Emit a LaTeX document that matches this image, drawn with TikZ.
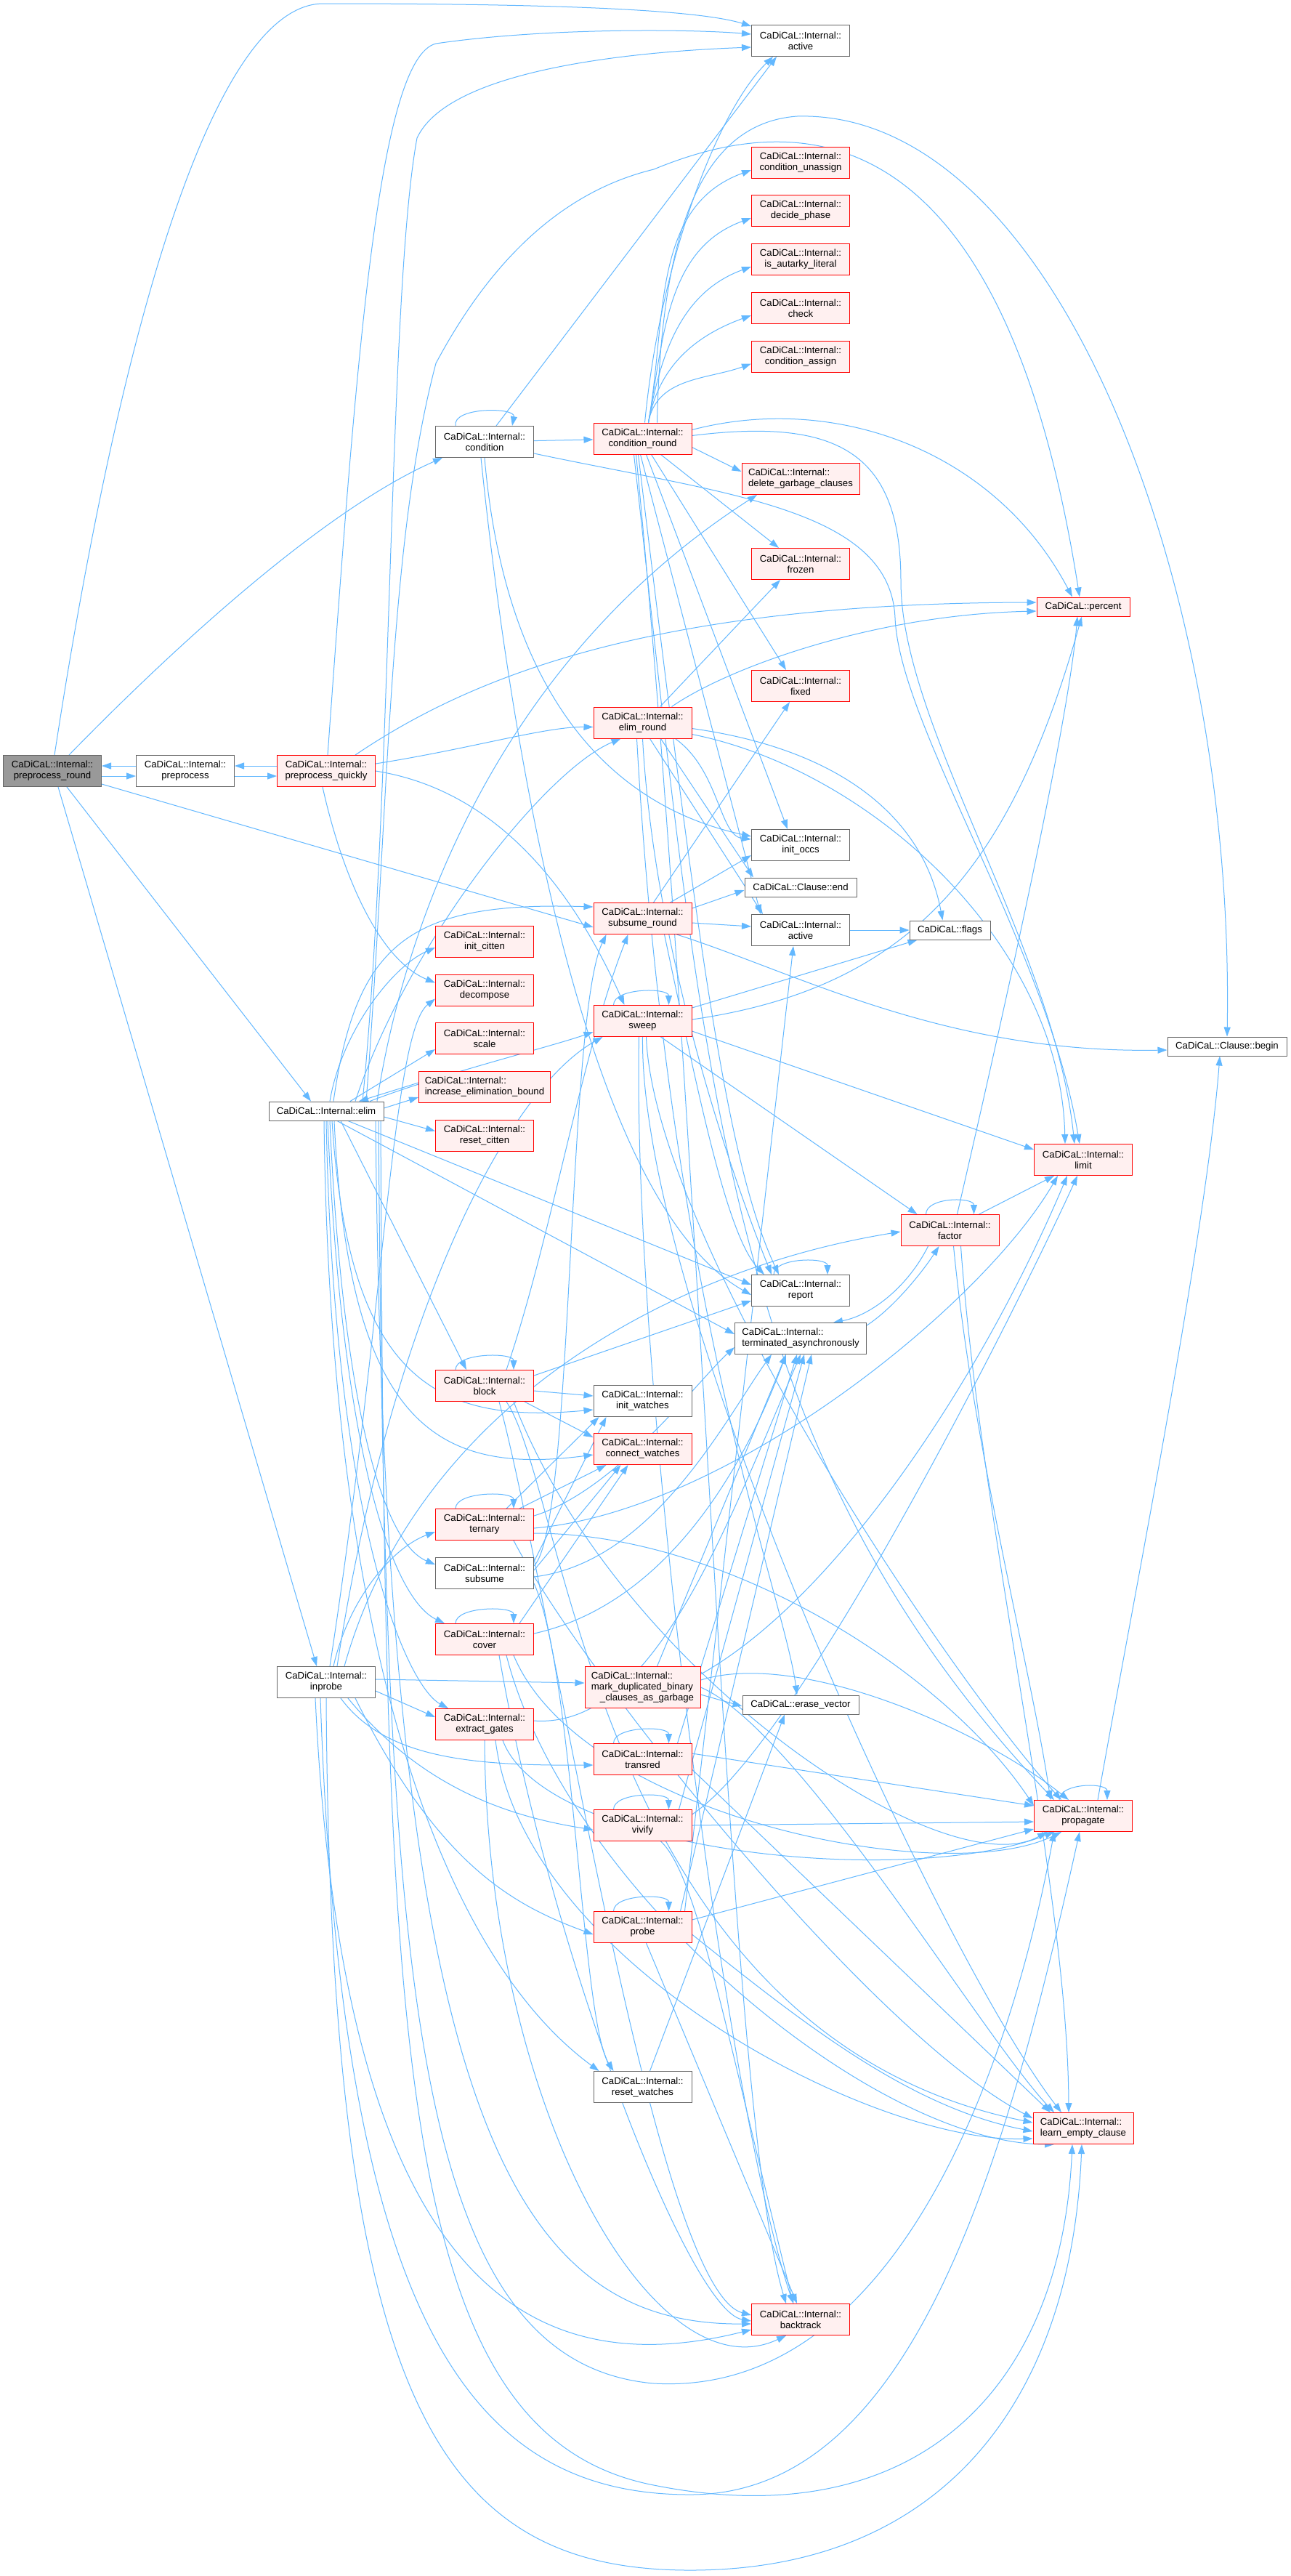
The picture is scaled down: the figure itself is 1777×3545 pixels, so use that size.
\documentclass[tikz,border=0pt]{standalone}
\usepackage{fontspec}
\setmainfont{Liberation Sans}
\usetikzlibrary{arrows.meta,backgrounds}
\definecolor{cgEdge}{HTML}{63B8FF}
\definecolor{cgGrey}{HTML}{666666}
\definecolor{cgRoot}{HTML}{999999}
\definecolor{cgPink}{HTML}{FFF0F0}
\definecolor{cgRed}{HTML}{FF0000}

\begin{document}
\begin{tikzpicture}[x=1pt, y=1pt,
    fn/.style={draw=cgGrey, fill=white, line width=1pt, inner sep=2pt,
      minimum width=135pt, minimum height=43pt, align=center,
      font=\fontsize{13.2}{15}\selectfont},
    trunc/.style={draw=cgRed, fill=cgPink},
    root/.style={fill=cgRoot},
    one/.style={minimum height=26pt},
    e/.style={-{Triangle[length=13pt,width=9pt]}, draw=cgEdge, line width=1pt}]
  \useasboundingbox (0,0) rectangle (1777,-3545);
  % column 1: entry
  \node[fn, root] (prr) at (72,-1061) {CaDiCaL::Internal::\\preprocess\_round};
  \node[fn] (pp) at (255,-1061) {CaDiCaL::Internal::\\preprocess};
  \node[fn, trunc] (pq) at (449,-1061) {CaDiCaL::Internal::\\preprocess\_quickly};
  \node[fn, one, minimum width=158pt] (elim) at (449,-1529) {CaDiCaL::Internal::elim};
  \node[fn] (inp) at (449,-2315) {CaDiCaL::Internal::\\inprobe};
  % column 2
  \node[fn] (cond) at (667,-608) {CaDiCaL::Internal::\\condition};
  \node[fn, trunc] (cit) at (667,-1296) {CaDiCaL::Internal::\\init\_citten};
  \node[fn, trunc] (dec) at (667,-1362.5) {CaDiCaL::Internal::\\decompose};
  \node[fn, trunc] (scl) at (667,-1429) {CaDiCaL::Internal::\\scale};
  \node[fn, trunc, minimum width=181pt, align=left] (ieb) at (667,-1496) {CaDiCaL::Internal::\\increase\_elimination\_bound};
  \node[fn, trunc] (rcit) at (667,-1562.5) {CaDiCaL::Internal::\\reset\_citten};
  \node[fn, trunc] (blk) at (667,-1907) {CaDiCaL::Internal::\\block};
  \node[fn, trunc] (tern) at (667,-2098) {CaDiCaL::Internal::\\ternary};
  \node[fn] (sub) at (667,-2165) {CaDiCaL::Internal::\\subsume};
  \node[fn, trunc] (cov) at (667,-2256) {CaDiCaL::Internal::\\cover};
  \node[fn, trunc] (eg) at (667,-2373) {CaDiCaL::Internal::\\extract\_gates};
  % column 3
  \node[fn, trunc] (cr) at (884.5,-603.5) {CaDiCaL::Internal::\\condition\_round};
  \node[fn, trunc] (er) at (884.5,-994.5) {CaDiCaL::Internal::\\elim\_round};
  \node[fn, trunc] (sr) at (884.5,-1264) {CaDiCaL::Internal::\\subsume\_round};
  \node[fn, trunc] (sw) at (884.5,-1405) {CaDiCaL::Internal::\\sweep};
  \node[fn] (iw) at (884.5,-1928) {CaDiCaL::Internal::\\init\_watches};
  \node[fn, trunc] (cw) at (884.5,-1994) {CaDiCaL::Internal::\\connect\_watches};
  \node[fn, trunc, minimum width=159pt, minimum height=57pt, align=left] (md) at (884.5,-2322)
    {CaDiCaL::Internal::\\mark\_duplicated\_binary\\\hspace*{12pt}\_clauses\_as\_garbage};
  \node[fn, trunc] (tr) at (884.5,-2421) {CaDiCaL::Internal::\\transred};
  \node[fn, trunc] (viv) at (884.5,-2512) {CaDiCaL::Internal::\\vivify};
  \node[fn, trunc] (prb) at (884.5,-2652) {CaDiCaL::Internal::\\probe};
  \node[fn] (rw) at (884.5,-2872) {CaDiCaL::Internal::\\reset\_watches};
  % column 4
  \node[fn] (act1) at (1102,-56) {CaDiCaL::Internal::\\active};
  \node[fn, trunc] (cu) at (1102,-224) {CaDiCaL::Internal::\\condition\_unassign};
  \node[fn, trunc] (dp) at (1102,-290) {CaDiCaL::Internal::\\decide\_phase};
  \node[fn, trunc] (ial) at (1102,-357) {CaDiCaL::Internal::\\is\_autarky\_literal};
  \node[fn, trunc] (chk) at (1102,-424) {CaDiCaL::Internal::\\check};
  \node[fn, trunc] (ca) at (1102,-490.5) {CaDiCaL::Internal::\\condition\_assign};
  \node[fn, trunc, minimum width=162pt, align=left] (dgc) at (1102,-659) {CaDiCaL::Internal::\\delete\_garbage\_clauses};
  \node[fn, trunc] (frz) at (1102,-776) {CaDiCaL::Internal::\\frozen};
  \node[fn, trunc] (fix) at (1102,-944) {CaDiCaL::Internal::\\fixed};
  \node[fn] (occs) at (1102,-1163) {CaDiCaL::Internal::\\init\_occs};
  \node[fn, one, minimum width=154pt] (cend) at (1102,-1221) {CaDiCaL::Clause::end};
  \node[fn] (act2) at (1102,-1280) {CaDiCaL::Internal::\\active};
  \node[fn] (rep) at (1102,-1776) {CaDiCaL::Internal::\\report};
  \node[fn, minimum width=181pt, align=left] (term) at (1102,-1842) {CaDiCaL::Internal::\\terminated\_asynchronously};
  \node[fn, one, minimum width=160pt] (ev) at (1102,-2346) {CaDiCaL::erase\_vector};
  \node[fn, trunc] (bt) at (1102,-3192) {CaDiCaL::Internal::\\backtrack};
  % column 5
  \node[fn, one, minimum width=111pt] (flags) at (1307.5,-1280) {CaDiCaL::flags};
  \node[fn, trunc] (fac) at (1307.5,-1693) {CaDiCaL::Internal::\\factor};
  % column 6
  \node[fn, trunc, one, minimum width=128pt] (pct) at (1491,-835) {CaDiCaL::percent};
  \node[fn, trunc] (lim) at (1491,-1596) {CaDiCaL::Internal::\\limit};
  \node[fn, trunc] (prop) at (1491,-2499) {CaDiCaL::Internal::\\propagate};
  \node[fn, trunc, minimum width=138pt, align=left] (lec) at (1491,-2929) {CaDiCaL::Internal::\\learn\_empty\_clause};
  \node[fn, one, minimum width=164pt] (cbegin) at (1689,-1440) {CaDiCaL::Clause::begin};

  \begin{scope}[on background layer]
  \fill[white] (0,0) rectangle (1777,-3545);
  % preprocess chain
  \draw[e] ([yshift=-7]prr.east) -- ([yshift=-7]pp.west);
  \draw[e] ([yshift=7]pp.west) -- ([yshift=7]prr.east);
  \draw[e] ([yshift=-7]pp.east) -- ([yshift=-7]pq.west);
  \draw[e] ([yshift=7]pq.west) -- ([yshift=7]pp.east);
  % preprocess_round
  \draw[e] ([xshift=3]prr.north) .. controls (170,-420) and (300,-5) .. (445,-5) .. controls (700,-5) and (950,-10) .. ([yshift=20]act1.west);
  \draw[e] ([xshift=23]prr.north) .. controls (250,-880) and (450,-700) .. ([xshift=-58]cond.south);
  \draw[e] ([yshift=-18]prr.east) -- ([yshift=-12]sr.west);
  \draw[e] ([xshift=20]prr.south) -- ([xshift=-21]elim.north);
  \draw[e] ([xshift=8]prr.south) -- ([xshift=-13]inp.north);
  % preprocess_quickly
  \draw[e] ([xshift=2]pq.north) .. controls (490,-500) and (520,-80) .. (600,-60) .. controls (750,-38) and (950,-40) .. ([yshift=9]act1.west);
  \draw[e] ([xshift=40]pq.north) .. controls (650,-930) and (900,-830) .. ([yshift=6]pct.west);
  \draw[e] ([yshift=10]pq.east) .. controls (650,-1030) and (750,-1000) .. ([yshift=-6]er.west);
  \draw[e] (pq.east) .. controls (700,-1090) and (800,-1250) .. ([xshift=-25]sw.north);
  \draw[e] ([xshift=-5]pq.south) .. controls (470,-1200) and (520,-1320) .. ([yshift=10]dec.west);
  % condition
  \draw[e] ([xshift=-40]cond.north) .. controls +(-5,26) and +(5,26) .. ([xshift=38]cond.north);
  \draw[e] (cond) -- (cr);
  \draw[e] ([xshift=16]cond.north) -- ([xshift=-33]act1.south);
  \draw[e] ([yshift=-16]cond.east) .. controls (1000,-680) and (1225,-700) .. (1232,-850) .. controls (1238,-1000) and (1440,-1300) .. ([xshift=-5]lim.north);
  \draw[e] (cond.south) .. controls (690,-900) and (800,-1100) .. ([yshift=12]occs.west);
  \draw[e] ([xshift=-5]cond.south) .. controls (700,-1000) and (800,-1650) .. ([yshift=-6]rep.west);
  % condition_round
  \draw[e] ([xshift=3]cr.north) .. controls (910,-350) and (990,-150) .. ([xshift=-38]act1.south);
  \foreach \tg in {cu,dp,ial,chk,ca}
    \draw[e] ([xshift=8]cr.north) to[out=80,in=200] ([yshift=-10]\tg.west);
  \draw[e] ([yshift=-12]cr.east) -- ([yshift=10]dgc.west);
  \draw[e] ([xshift=25]cr.south) -- ([xshift=-30]frz.north);
  \draw[e] ([xshift=12]cr.south) -- ([xshift=-20]fix.north);
  \draw[e] ([xshift=5]cr.south) -- ([xshift=-18]occs.north);
  \draw[e] ([yshift=12]cr.east) .. controls (1150,-540) and (1370,-620) .. ([xshift=-15]pct.north);
  \draw[e] ([yshift=4]cr.east) .. controls (1150,-575) and (1240,-620) .. (1240,-800) .. controls (1240,-1000) and (1450,-1300) .. ([xshift=-12]lim.north);
  \draw[e] ([xshift=-3]cr.south) -- ([xshift=-55]act2.north);
  \draw[e] ([xshift=20]cr.north) .. controls (910,-330) and (960,-170) .. (1097,-160) .. controls (1450,-150) and (1700,-800) .. (cbegin.north);
  \draw[e] ([xshift=-6]cr.south) .. controls (960,-1300) and (1000,-1600) .. ([xshift=-30]rep.north);
  \draw[e] ([xshift=-9]cr.south) .. controls (970,-1600) and (1000,-2900) .. ([xshift=-20]bt.north);
  \draw[e] ([xshift=-12]cr.south) .. controls (970,-1500) and (1000,-2000) .. ([xshift=-40]prop.north);
  % elim_round
  \draw[e] ([xshift=24]er.north) -- ([xshift=-28]frz.south);
  \draw[e] ([xshift=40]er.north) .. controls (1000,-920) and (1200,-846) .. ([yshift=-6]pct.west);
  \draw[e] ([xshift=45]er.south) .. controls (990,-1060) and (990,-1150) .. ([yshift=8]occs.west);
  \draw[e] ([xshift=25]er.south) -- ([xshift=-65]cend.north);
  \draw[e] ([xshift=10]er.south) -- ([xshift=-52]act2.north);
  \draw[e] ([yshift=-8]er.east) .. controls (1150,-1030) and (1270,-1120) .. ([xshift=-10]flags.north);
  \draw[e] ([yshift=-16]er.east) .. controls (1200,-1060) and (1460,-1300) .. ([xshift=-25]lim.north);
  \draw[e] (er.south) .. controls (900,-1300) and (1000,-1600) .. ([xshift=-40]rep.north);
  \draw[e] ([xshift=-8]er.south) .. controls (920,-1800) and (1080,-2200) .. ([xshift=-5]ev.north);
  % subsume_round
  \draw[e] ([xshift=15]sr.north) -- ([xshift=-15]fix.south);
  \draw[e] ([xshift=38]sr.north) -- ([yshift=-14]occs.west);
  \draw[e] ([yshift=14]sr.east) -- ([yshift=-4]cend.west);
  \draw[e] ([yshift=-6]sr.east) -- ([yshift=5]act2.west);
  \draw[e] ([xshift=47]sr.south) .. controls (1100,-1340) and (1300,-1450) .. ([yshift=-5]cbegin.west);
  \draw[e] ([xshift=30]sr.south) .. controls (960,-1500) and (1000,-1700) .. ([xshift=-50]rep.north);
  % sweep
  \draw[e] ([xshift=-40]sw.north) .. controls +(0,24) and +(0,24) .. ([xshift=36]sw.north);
  \draw[e] ([yshift=18]sw.east) -- ([xshift=-45]flags.south);
  \draw[e] ([yshift=-14]sw.east) -- ([yshift=14]lim.west);
  \draw[e] ([xshift=25]sw.south) -- ([xshift=-45]fac.north);
  \draw[e] ([yshift=2]sw.east) .. controls (1250,-1360) and (1390,-1200) .. ([xshift=-2]pct.south);
  \draw[e] ([xshift=5]sw.south) .. controls (900,-1700) and (1300,-2300) .. ([xshift=-30]prop.north);
  \draw[e] (sw.south) .. controls (880,-1800) and (1300,-2700) .. ([xshift=-30]lec.north);
  \draw[e] ([xshift=-5]sw.south) .. controls (870,-1900) and (1000,-2900) .. ([xshift=-10]bt.north);
  % factor, report, propagate
  \draw[e] ([xshift=-33]fac.north) .. controls +(0,24) and +(0,24) .. ([xshift=33]fac.north);
  \draw[e] ([xshift=40]fac.north) -- ([xshift=-40]lim.south);
  \draw[e] ([xshift=10]fac.north) .. controls (1380,-1400) and (1470,-1000) .. ([xshift=-8]pct.south);
  \draw[e] ([xshift=-30]fac.south) .. controls (1250,-1770) and (1200,-1810) .. ([xshift=45]term.north);
  \draw[e] ([yshift=18]term.east) .. controls (1230,-1800) and (1270,-1750) .. ([xshift=-15]fac.south);
  \draw[e] ([xshift=5]fac.south) .. controls (1340,-2000) and (1420,-2300) .. ([xshift=-45]prop.north);
  \draw[e] ([xshift=15]fac.south) .. controls (1350,-2100) and (1470,-2600) .. ([xshift=-20]lec.north);
  \draw[e] (act2.east) -- (flags.west);
  \draw[e] ([xshift=-37]rep.north) .. controls +(0,24) and +(0,24) .. ([xshift=37]rep.north);
  \draw[e] ([xshift=-33]prop.north) .. controls +(0,24) and +(0,24) .. ([xshift=33]prop.north);
  \draw[e] ([xshift=20]prop.north) .. controls (1560,-2200) and (1660,-1700) .. ([xshift=-10]cbegin.south);
  % elim
  \draw[e] ([xshift=50]elim.north) .. controls (540,-1100) and (535,-400) .. (574,-190) .. controls (620,-90) and (900,-70) .. ([yshift=-9]act1.west);
  \draw[e] ([xshift=55]elim.north) .. controls (536,-1100) and (534,-750) .. (600,-500) .. controls (680,-350) and (780,-262) .. (900,-233) .. controls (1100,-150) and (1380,-150) .. ([xshift=-5]pct.north);
  \draw[e] ([xshift=5]elim.north) .. controls (470,-1420) and (540,-1330) .. ([yshift=-8]cit.west);
  \draw[e] ([xshift=33]elim.north) -- ([yshift=-15]scl.west);
  \draw[e] ([yshift=4]elim.east) -- ([yshift=-14]ieb.west);
  \draw[e] ([yshift=6]ieb.west) -- ([xshift=45]elim.north);
  \draw[e] ([yshift=-8]elim.east) -- ([yshift=6]rcit.west);
  \draw[e] ([xshift=40]elim.north) .. controls (560,-1300) and (750,-1060) .. ([xshift=-30]er.south);
  \draw[e] ([xshift=10]elim.north) .. controls (490,-1300) and (560,-1240) .. ([yshift=16]sr.west);
  \draw[e] ([xshift=60]elim.north) .. controls (600,-1480) and (760,-1440) .. ([yshift=-15]sw.west);
  \draw[e] ([xshift=70]elim.north) .. controls (560,-1250) and (700,-900) .. ([xshift=-60]dgc.south);
  \draw[e] ([xshift=20]elim.south) -- ([xshift=-25]blk.north);
  \draw[e] ([xshift=5]elim.south) .. controls (470,-1900) and (520,-2120) .. ([yshift=12]sub.west);
  \draw[e] ([xshift=2]elim.south) .. controls (470,-2000) and (540,-2200) .. ([xshift=-55]cov.north);
  \draw[e] (elim.south) .. controls (460,-2100) and (560,-2320) .. ([xshift=-50]eg.north);
  \draw[e] ([xshift=8]elim.south) .. controls (480,-1900) and (600,-1960) .. ([yshift=-12]iw.west);
  \draw[e] ([xshift=11]elim.south) .. controls (480,-1960) and (600,-2030) .. ([yshift=-8]cw.west);
  \draw[e] ([xshift=30]elim.south) -- ([yshift=8]rep.west);
  \draw[e] ([xshift=15]elim.south) -- ([yshift=6]term.west);
  \draw[e] ([xshift=-3]elim.south) .. controls (455,-2300) and (620,-2700) .. ([xshift=-60]rw.north);
  \draw[e] ([xshift=75]elim.south) .. controls (530,-2800) and (540,-3350) .. (900,-3420) .. controls (1250,-3490) and (1460,-3300) .. ([xshift=-15]lec.south);
  \draw[e] ([xshift=72]elim.south) .. controls (530,-2700) and (560,-3250) .. (900,-3280) .. controls (1250,-3300) and (1400,-2800) .. ([xshift=-40]prop.south);
  \draw[e] ([xshift=68]elim.south) .. controls (530,-2900) and (700,-3200) .. ([yshift=-6]bt.west);
  % inprobe
  \draw[e] ([xshift=5]inp.north) .. controls (530,-1800) and (540,-1420) .. ([yshift=-12]dec.west);
  \draw[e] ([xshift=10]inp.north) .. controls (480,-2200) and (540,-2130) .. ([yshift=-10]tern.west);
  \draw[e] ([xshift=15]inp.north) .. controls (540,-1800) and (700,-1500) .. ([xshift=-55]sw.south);
  \draw[e] ([xshift=25]inp.north) .. controls (570,-1950) and (900,-1750) .. ([yshift=-2]fac.west);
  \draw[e] ([yshift=4]inp.east) -- ([yshift=6]md.west);
  \draw[e] ([yshift=-12]inp.east) -- ([yshift=10]eg.west);
  \draw[e] ([xshift=20]inp.south) .. controls (530,-2420) and (650,-2430) .. ([yshift=-8]tr.west);
  \draw[e] ([xshift=30]inp.south) .. controls (580,-2460) and (700,-2500) .. ([yshift=-6]viv.west);
  \draw[e] ([xshift=40]inp.south) .. controls (600,-2560) and (700,-2620) .. ([yshift=-10]prb.west);
  \draw[e] (inp.south) .. controls (455,-3300) and (600,-3537) .. (950,-3537) .. controls (1300,-3537) and (1475,-3300) .. ([xshift=-2]lec.south);
  \draw[e] ([xshift=-8]inp.south) .. controls (470,-3200) and (650,-3433) .. (950,-3433) .. controls (1250,-3433) and (1380,-3000) .. ([xshift=-5]prop.south);
  \draw[e] ([xshift=-15]inp.south) .. controls (470,-3100) and (700,-3290) .. ([yshift=-14]bt.west);
  % block
  \draw[e] ([xshift=-40]blk.north) .. controls +(0,24) and +(0,24) .. ([xshift=40]blk.north);
  \draw[e] ([yshift=-7]blk.east) -- ([yshift=7]iw.west);
  \draw[e] ([xshift=55]blk.south) -- ([yshift=16]cw.west);
  \draw[e] ([yshift=14]blk.east) -- ([yshift=-14]rep.west);
  \draw[e] ([xshift=30]blk.north) .. controls (760,-1700) and (800,-1450) .. ([xshift=-20]sr.south);
  \draw[e] ([xshift=30]blk.south) .. controls (780,-2050) and (820,-2800) .. ([yshift=8]lec.west);
  \draw[e] ([xshift=40]blk.south) .. controls (850,-2300) and (1300,-2600) .. ([xshift=-50]prop.south);
  \draw[e] ([xshift=20]blk.south) .. controls (760,-2200) and (900,-3150) .. ([yshift=6]bt.west);
  % ternary
  \draw[e] ([xshift=-40]tern.north) .. controls +(0,24) and +(0,24) .. ([xshift=40]tern.north);
  \draw[e] ([xshift=30]tern.north) -- ([xshift=-60]iw.south);
  \draw[e] ([xshift=48]tern.north) -- ([xshift=-50]cw.south);
  \draw[e] ([yshift=12]tern.east) .. controls (850,-2050) and (960,-1900) .. ([yshift=-12]term.west);
  \draw[e] ([yshift=-5]tern.east) .. controls (1000,-2080) and (1350,-1800) .. ([xshift=-35]lim.south);
  \draw[e] ([yshift=-12]tern.east) .. controls (1000,-2110) and (1300,-2300) .. ([yshift=14]prop.west);
  \draw[e] ([xshift=40]tern.south) .. controls (800,-2300) and (1200,-2800) .. ([yshift=14]lec.west);
  % subsume
  \draw[e] ([yshift=10]sub.east) .. controls (790,-2100) and (780,-1400) .. ([xshift=-50]sr.south);
  \draw[e] ([yshift=16]sub.east) -- ([xshift=-50]iw.south);
  \draw[e] ([yshift=4]sub.east) -- ([xshift=-30]cw.south);
  \draw[e] ([yshift=-5]sub.east) .. controls (900,-2150) and (1000,-1950) .. ([xshift=-40]term.south);
  \draw[e] ([yshift=-14]sub.east) .. controls (790,-2300) and (800,-2780) .. ([xshift=-40]rw.north);
  % cover
  \draw[e] ([xshift=-40]cov.north) .. controls +(0,24) and +(0,24) .. ([xshift=40]cov.north);
  \draw[e] ([xshift=48]cov.north) -- ([xshift=-20]cw.south);
  \draw[e] ([yshift=8]cov.east) .. controls (950,-2200) and (1050,-1950) .. ([xshift=-20]term.south);
  \draw[e] ([xshift=40]cov.south) .. controls (800,-2500) and (1300,-2600) .. ([xshift=-30]prop.south);
  \draw[e] ([xshift=30]cov.south) .. controls (780,-2600) and (1200,-2950) .. ([xshift=-40]lec.south);
  \draw[e] ([xshift=20]cov.south) .. controls (760,-2700) and (950,-3180) .. ([yshift=-2]bt.west);
  % extract_gates
  \draw[e] ([yshift=5]eg.east) .. controls (900,-2380) and (1000,-2100) .. (term.south);
  \draw[e] (eg.south) .. controls (670,-2900) and (900,-3300) .. ([xshift=-20]bt.south);
  \draw[e] ([xshift=15]eg.south) .. controls (720,-2700) and (1200,-2950) .. ([yshift=-14]lec.west);
  \draw[e] ([xshift=25]eg.south) .. controls (750,-2550) and (1250,-2600) .. ([xshift=-40]prop.south);
  % mark_duplicated_binary_clauses_as_garbage
  \draw[e] ([yshift=-10]md.east) -- ([yshift=-2]ev.west);
  \draw[e] ([xshift=20]md.north) -- ([xshift=-20]term.south);
  \draw[e] ([yshift=18]md.east) .. controls (1150,-2200) and (1350,-1900) .. ([xshift=-22]lim.south);
  \draw[e] ([yshift=10]md.east) .. controls (1100,-2270) and (1350,-2380) .. ([xshift=-20]prop.north);
  \draw[e] (md.east) .. controls (1100,-2380) and (1350,-2800) .. ([xshift=-40]lec.north);
  % transred, vivify, probe
  \draw[e] ([xshift=-40]tr.north) .. controls +(0,24) and +(0,24) .. ([xshift=36]tr.north);
  \draw[e] ([xshift=48]tr.north) -- ([xshift=-5]term.south);
  \draw[e] ([yshift=8]tr.east) -- ([yshift=14]prop.west);
  \draw[e] ([yshift=-14]tr.east) -- ([xshift=-45]lec.north);
  \draw[e] ([xshift=-40]viv.north) .. controls +(0,24) and +(0,24) .. ([xshift=36]viv.north);
  \draw[e] ([xshift=50]viv.north) -- ([xshift=5]term.south);
  \draw[e] (viv.east) -- ([yshift=-8]prop.west);
  \draw[e] ([yshift=15]viv.east) .. controls (1100,-2400) and (1400,-1800) .. ([xshift=-8]lim.south);
  \draw[e] ([xshift=25]viv.south) .. controls (960,-2580) and (1000,-2800) .. ([xshift=-10]bt.north);
  \draw[e] ([xshift=-40]prb.north) .. controls +(0,24) and +(0,24) .. ([xshift=36]prb.north);
  \draw[e] ([xshift=52]prb.north) -- ([xshift=15]term.south);
  \draw[e] ([xshift=58]prb.north) -- ([xshift=-10]act2.south);
  \draw[e] ([yshift=10]prb.east) -- ([yshift=-18]prop.west);
  \draw[e] ([xshift=5]prb.south) -- ([xshift=-5]bt.north);
  \draw[e] ([yshift=-10]prb.east) .. controls (1100,-2780) and (1250,-2900) .. ([yshift=-4]lec.west);
  % reset_watches
  \draw[e] ([xshift=10]rw.north) -- ([xshift=-22]ev.south);
  \end{scope}
\end{tikzpicture}
\end{document}
